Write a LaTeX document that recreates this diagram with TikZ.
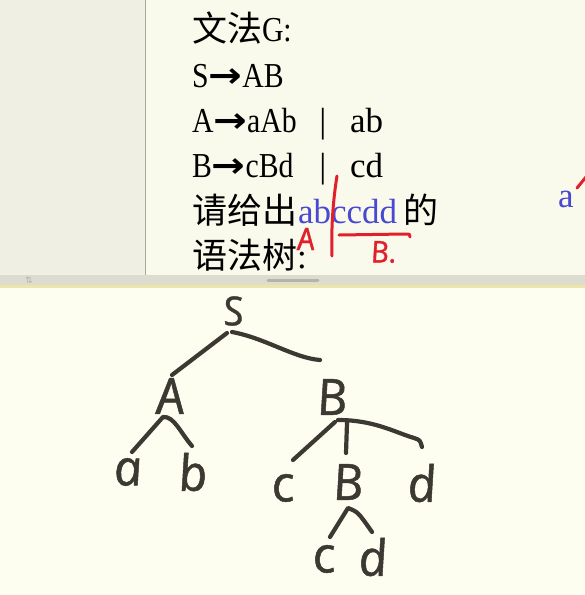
\documentclass[tikz,border=0pt]{standalone}
\usepackage{fontspec}
\setmainfont{Liberation Serif}
\newfontfamily\cjk{Noto Sans CJK SC}
\newfontfamily\narrowlat[FakeStretch=0.85]{Liberation Serif}
\newfontfamily\lat{Liberation Serif}
\newfontfamily\hand[ItalicFeatures={FakeSlant=-0.15,FakeBold=1}]{Open Sans}
\newfontfamily\sym{DejaVu Sans}
\newfontfamily\arrowfont[FakeStretch=1.15]{DejaVu Sans Bold}
\newcommand{\rarr}{{\arrowfont →}}
\usetikzlibrary{calc}
\definecolor{leftpanel}{HTML}{EFEFE3}
\definecolor{toppanel}{HTML}{FAFAEC}
\definecolor{botpanel}{HTML}{FDFDF0}
\definecolor{bandcol}{HTML}{DCDCD0}
\definecolor{yline}{HTML}{EEE6A8}
\definecolor{handle}{HTML}{B4B4A8}
\definecolor{sepline}{HTML}{A8A898}
\definecolor{ink}{HTML}{3C3832}
\definecolor{pen}{HTML}{E0202A}
\definecolor{bluetxt}{HTML}{4848D0}
\begin{document}
\begin{tikzpicture}[x=1pt,y=-1pt,
  txt/.style={inner sep=0pt, outer sep=0pt, font=\fontsize{35}{35}\selectfont\lat, text=black},
  prod/.style={txt, font=\fontsize{35}{35}\selectfont\narrowlat},
  hw/.style={inner sep=0pt, outer sep=0pt, font=\fontsize{50}{50}\selectfont\hand\itshape, text=ink},
  redhw/.style={inner sep=0pt, outer sep=0pt, font=\fontsize{31}{31}\selectfont\hand\itshape, text=pen},
  stroke/.style={draw=ink, line width=4.2pt, line cap=round, line join=round},
  redpen/.style={draw=pen, line width=3pt, line cap=round, line join=round}]
\useasboundingbox (0,0) rectangle (585,595);
% panels
\fill[toppanel] (0,0) rectangle (585,275);
\fill[leftpanel] (0,0) rectangle (145,275);
\draw[sepline, line width=1.5pt] (145.5,0) -- (145.5,275);
\fill[bandcol] (0,275) rectangle (585,285);
\fill[yline] (0,285) rectangle (585,287.5);
\fill[botpanel] (0,287.5) rectangle (585,595);
\draw[handle, line width=3pt, line cap=round] (268,280) -- (318,280);
\node[inner sep=0pt, text=handle, font=\fontsize{9}{9}\selectfont\sym] (icon) at (29,280) {⇅};

% grammar text
\node[prod, anchor=base west] (l1) at (192,41) {{\cjk 文法}G:};
\node[prod, anchor=base west] (l2) at (192,87) {S\rarr AB};
\node[prod, anchor=base west] (l3) at (192,132) {A\rarr aAb};
\node[txt, anchor=base] (bar3) at (323,132) {|};
\node[txt, anchor=base west] (alt3) at (350,132) {ab};
\node[prod, anchor=base west] (l4) at (192,177) {B\rarr cBd};
\node[txt, anchor=base] (bar4) at (323,177) {|};
\node[txt, anchor=base west] (alt4) at (350,177) {cd};
\node[txt, anchor=base west] (l5a) at (192,223) {\cjk 请给出};
\node[txt, anchor=base west, text=bluetxt] (l5b) at (298,223) {abccdd};
\node[txt, anchor=base west] (l5c) at (403,223) {\cjk 的};
\node[txt, anchor=base west] (l6) at (192,268) {{\cjk 语法树}:};
\node[txt, text=bluetxt] (sidea) at (566,199) {a};

% red annotations
\draw[redpen] (337,176) .. controls (333,200) and (331,230) .. (332,256);
\draw[redpen] (339,235) -- (405,234) .. controls (410,234) .. (410,237);
\node[redhw] (ra) at (307,239) {A};
\node[redhw, font=\fontsize{30}{30}\selectfont\hand\itshape, anchor=west] (rb) at (372,252) {B.};
\draw[redpen] (577,188) -- (586,177);

% parse tree
\node[hw, font=\fontsize{40}{40}\selectfont\hand\itshape] (S) at (235,311) {S};
\node[hw] (A) at (172,396) {A};
\node[hw] (B) at (334,397) {B};
\node[hw] (a) at (130,472) {a};
\node[hw] (b) at (195,472) {b};
\node[hw] (c) at (285,488) {c};
\node[hw] (B2) at (350,482) {B};
\node[hw] (d) at (424,483) {d};
\node[hw] (c2) at (326,559) {c};
\node[hw] (d2) at (375,557) {d};

\draw[stroke] ($(S)+(-8,22)$) -- ($(A)+(0,-21)$);
\draw[stroke] ($(S)+(-3,21)$) .. controls ($(S)+(30,27)$) and ($(B)+(-40,-39)$) .. ($(B)+(-14,-37)$);
\draw[stroke] ($(a)+(2,-20)$) -- ($(A)+(-9,21)$) .. controls ($(A)+(2,20)$) and ($(A)+(8,36)$) .. ($(b)+(-3,-26)$);
\draw[stroke] ($(B)+(1,25)$) -- ($(c)+(8,-28)$);
\draw[stroke] ($(B)+(13,26)$) -- ($(B2)+(-4,-29)$);
\draw[stroke] ($(B)+(4,23)$) .. controls ($(B)+(40,23)$) and ($(B)+(60,35)$) .. ($(B)+(80,41)$) .. controls ($(B)+(86,43)$) .. ($(d)+(-2,-36)$);
\draw[stroke] ($(c2)+(4,-22)$) -- ($(B2)+(-2,26)$) .. controls ($(B2)+(8,30)$) .. ($(d2)+(-3,-25)$);
\end{tikzpicture}
\end{document}
